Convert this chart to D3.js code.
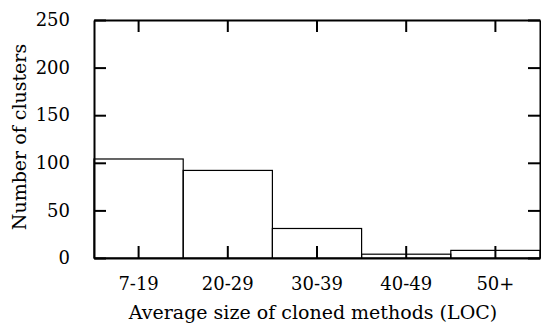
<!DOCTYPE html>
<html>
<head>
<meta charset="utf-8">
<script src="https://cdn.jsdelivr.net/npm/d3@7"></script>
<style>
  body { margin: 0; background: #fff; }
  text { font-family: "DejaVu Serif", "Liberation Serif", serif; fill: #000; }
</style>
</head>
<body>
<div id="chart-area"></div>
<script>
// data
var categories = ["7-19", "20-29", "30-39", "40-49", "50+"];
var clusters = [104, 92, 31, 4, 8];
var yTicks = [0, 50, 100, 150, 200, 250];

var margin = {top: 20, right: 1, bottom: 69, left: 94};
var width = 541 - margin.left - margin.right;
var height = 327 - margin.top - margin.bottom;

var svg = d3.select("#chart-area").append("svg")
	.attr("width", 541)
	.attr("height", 327);

var g = svg.append("g")
	.attr("transform", "translate(" + margin.left + ", " + margin.top + ")");

var x = d3.scaleBand()
	.domain(categories)
	.range([0, width])
	.padding(0);

var y = d3.scaleLinear()
	.domain([0, 250])
	.range([height, 0]);

// bars
g.selectAll("rect.bar").data(clusters).enter()
	.append("rect")
		.attr("class", "bar")
		.attr("x", (d, i) => x(categories[i]))
		.attr("y", (d) => y(d))
		.attr("width", x.bandwidth())
		.attr("height", (d) => height - y(d))
		.attr("fill", "none")
		.attr("stroke", "#000")
		.attr("stroke-width", 1.2);

// axes, ticks pointing inward
var tickLen = 12;
var bottomAxis = d3.axisBottom(x).tickSizeInner(-tickLen).tickSizeOuter(0).tickPadding(tickLen + 7);
var topAxis = d3.axisTop(x).tickSizeInner(-tickLen).tickSizeOuter(0).tickFormat("");
var leftAxis = d3.axisLeft(y).tickValues(yTicks).tickSizeInner(-tickLen).tickSizeOuter(0).tickPadding(tickLen + 12);
var rightAxis = d3.axisRight(y).tickValues(yTicks).tickSizeInner(-tickLen).tickSizeOuter(0).tickFormat("");

function styleAxis(sel) {
	sel.select(".domain").attr("stroke", "#000").attr("stroke-width", 2);
	sel.selectAll(".tick line").attr("stroke", "#000").attr("stroke-width", 2);
	sel.selectAll(".tick text").attr("font-size", "18px").attr("font-family", "DejaVu Serif");
}

g.append("g").attr("transform", "translate(0, " + height + ")").call(bottomAxis).call(styleAxis);
g.append("g").call(topAxis).call(styleAxis);
g.append("g").call(leftAxis).call(styleAxis);
g.append("g").attr("transform", "translate(" + width + ", 0)").call(rightAxis).call(styleAxis);

// x-axis label
g.append("text")
	.attr("x", width / 2 - 4)
	.attr("y", height + 61)
	.attr("font-size", "19px")
	.attr("text-anchor", "middle")
	.text("Average size of cloned methods (LOC)");

// y-axis label
g.append("text")
	.attr("x", -(height / 2) + 2)
	.attr("y", -68)
	.attr("font-size", "19px")
	.attr("text-anchor", "middle")
	.attr("transform", "rotate(-90)")
	.text("Number of clusters");
</script>
</body>
</html>
